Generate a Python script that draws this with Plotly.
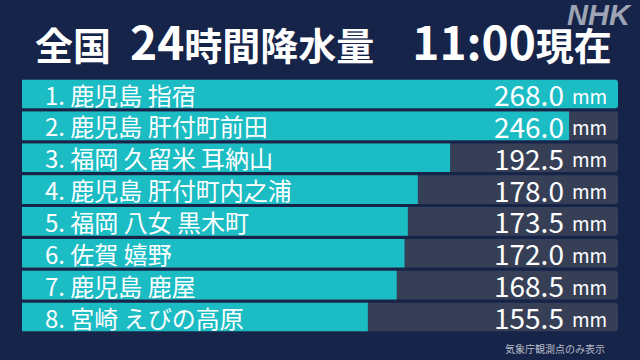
import re
import plotly.graph_objects as go

# ---- data ----
ranks = [1, 2, 3, 4, 5, 6, 7, 8]
places = ["鹿児島 指宿", "鹿児島 肝付町前田", "福岡 久留米 耳納山", "鹿児島 肝付町内之浦",
          "福岡 八女 黒木町", "佐賀 嬉野", "鹿児島 鹿屋", "宮崎 えびの高原"]
values = [268.0, 246.0, 192.5, 178.0, 173.5, 172.0, 168.5, 155.5]
unit = "mm"
title_text = "全国 24時間降水量　11:00現在"
note_text = "気象庁観測点のみ表示"
logo_text = "NHK"

labels = [f"{r}. {p}" for r, p in zip(ranks, places)]
vmax = max(values)

W, H = 640, 360
ML, MR, MT, MB = 22, 22, 72, 21
PW, PH = W - ML - MR, H - MT - MB

def px(x):
    return (x - ML) / PW

def py(y):
    return (H - MB - y) / PH

BG = "#16244a"
ROW = "#373f57"
TEAL = "#1cbcc4"
FONT = "Noto Sans CJK JP"

def big_digits(s, size):
    s = s.replace(" ", "\u2002")
    return re.sub(r"([0-9:.]+)", lambda m: f'<span style="font-size:{size}px">{m.group(1)}</span>', s)

fig = go.Figure()
fig.add_trace(go.Bar(
    y=labels, x=[vmax] * len(values), orientation="h",
    marker=dict(color=ROW, cornerradius=3, line=dict(width=0)),
    hoverinfo="skip", showlegend=False,
))
fig.add_trace(go.Bar(
    y=labels, x=values, orientation="h",
    marker=dict(color=TEAL, cornerradius=3, line=dict(width=0)),
    hoverinfo="skip", showlegend=False,
))

ann = []
for lab, v in zip(labels, values):
    ann.append(dict(x=px(43), xref="paper", y=lab, yref="y", text=lab,
                    xanchor="left", yanchor="middle", showarrow=False,
                    font=dict(family=FONT, size=24, color="white")))
    ann.append(dict(x=px(566), xref="paper", y=lab, yref="y", text=f"{v:.1f}",
                    xanchor="right", yanchor="middle", showarrow=False,
                    font=dict(family=FONT, size=28, color="white")))
    ann.append(dict(x=px(570), xref="paper", y=lab, yref="y", text=unit,
                    xanchor="left", yanchor="middle", showarrow=False, yshift=-1,
                    font=dict(family=FONT, size=19, color="white")))

ann.append(dict(x=px(33), xref="paper", y=py(40), yref="paper",
                text=f"<b>{big_digits(title_text, 46)}</b>",
                xanchor="left", yanchor="middle", showarrow=False,
                font=dict(family=FONT, size=38, color="white")))
ann.append(dict(x=px(634), xref="paper", y=py(15), yref="paper", text=f"<b><i>{logo_text}</i></b>",
                xanchor="right", yanchor="middle", showarrow=False,
                font=dict(family="Liberation Sans", size=29, color="#9ea4b4")))
ann.append(dict(x=px(607), xref="paper", y=py(348), yref="paper", text=note_text,
                xanchor="right", yanchor="middle", showarrow=False,
                font=dict(family=FONT, size=10, color="#b8bcc8")))

fig.update_layout(
    width=W, height=H,
    margin=dict(l=ML, r=MR, t=MT, b=MB, pad=0, autoexpand=False),
    paper_bgcolor=BG, plot_bgcolor=BG,
    barmode="overlay", bargap=0.1,
    xaxis=dict(range=[0, vmax], visible=False, fixedrange=True),
    yaxis=dict(categoryorder="array", categoryarray=labels, autorange="reversed",
               visible=False, fixedrange=True),
    annotations=ann,
)

fig.write_html("out.html", config=dict(displayModeBar=False),
               post_script="document.body.style.margin='0';document.body.style.overflow='hidden';")
